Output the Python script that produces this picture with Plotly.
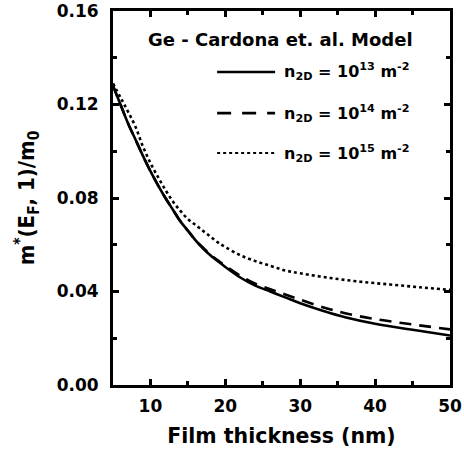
import plotly.graph_objects as go

# Film thickness (nm)
x_solid = [5, 6, 7, 8, 9, 10, 11, 12, 13, 14, 15, 16, 17, 18, 19, 20, 22, 24, 26, 28, 30, 33, 36, 40, 45, 50]
y_solid = [0.128, 0.120, 0.112, 0.105, 0.098, 0.0915, 0.0855, 0.080, 0.075, 0.070, 0.066, 0.062, 0.0585, 0.0555, 0.053, 0.0505,
           0.046, 0.0425, 0.040, 0.0375, 0.035, 0.0318, 0.029, 0.0262, 0.0236, 0.0212]

x_dash = [5, 6, 7, 8, 9, 10, 11, 12, 13, 14, 15, 16, 17, 18, 19, 20, 22, 24, 26, 28, 30, 33, 36, 40, 45, 50]
y_dash = [0.128, 0.120, 0.112, 0.105, 0.098, 0.0915, 0.0855, 0.080, 0.075, 0.070, 0.066, 0.062, 0.0588, 0.0558, 0.0533, 0.051,
          0.0467, 0.0433, 0.041, 0.0387, 0.0365, 0.0333, 0.0307, 0.0282, 0.0259, 0.0238]

x_dot = [5, 6, 7, 8, 9, 10, 11, 12, 13, 14, 15, 16, 17, 18, 19, 20, 22, 24, 26, 28, 30, 34, 38, 42, 46, 50]
y_dot = [0.129, 0.123, 0.117, 0.1105, 0.102, 0.095, 0.089, 0.0835, 0.0785, 0.0745, 0.071, 0.0685, 0.066, 0.0635, 0.061, 0.059,
         0.0555, 0.053, 0.051, 0.049, 0.0478, 0.0458, 0.0442, 0.043, 0.0418, 0.0407]

legend_labels = ["n<sub>2D</sub> = 10<sup>13</sup> m<sup>-2</sup>",
                 "n<sub>2D</sub> = 10<sup>14</sup> m<sup>-2</sup>",
                 "n<sub>2D</sub> = 10<sup>15</sup> m<sup>-2</sup>"]
legend_title = "Ge - Cardona et. al. Model"

x_ticks = [10, 20, 30, 40, 50]
y_ticks = [0.00, 0.04, 0.08, 0.12, 0.16]

FONT = "DejaVu Sans, Liberation Sans, sans-serif"
FONT_NARROW = "Liberation Sans Narrow, DejaVu Sans Condensed, Liberation Sans, sans-serif"
dashes = ["solid", "12px,8px", "dot"]

fig = go.Figure()
for xs, ys, d in [(x_solid, y_solid, dashes[0]), (x_dash, y_dash, dashes[1]), (x_dot, y_dot, dashes[2])]:
    fig.add_trace(go.Scatter(x=xs, y=ys, mode="lines", line=dict(color="black", width=2.6, dash=d, shape="spline"),
                             showlegend=False))

# legend (drawn manually)
rows_y = [0.837, 0.727, 0.620]
x0, x1, xt = 0.309, 0.481, 0.500
fig.add_shape(type="line", xref="paper", yref="paper", x0=x0, x1=x1, y0=rows_y[0], y1=rows_y[0],
              line=dict(color="black", width=2.6))
fig.add_shape(type="line", xref="paper", yref="paper", x0=x0, x1=x1, y0=rows_y[1], y1=rows_y[1],
              line=dict(color="black", width=2.6, dash="14px,11px"))
fig.add_shape(type="line", xref="paper", yref="paper", x0=x0, x1=x1, y0=rows_y[2], y1=rows_y[2],
              line=dict(color="black", width=2.0, dash="dot"))
for lab, yy in zip(legend_labels, rows_y):
    fig.add_annotation(xref="paper", yref="paper", x=xt, y=yy, text=lab, showarrow=False, xanchor="left",
                       yanchor="middle", font=dict(family=FONT, size=16, color="black", weight="bold"))
fig.add_annotation(xref="paper", yref="paper", x=0.497, y=0.925, text=legend_title, showarrow=False,
                   xanchor="center", yanchor="middle", font=dict(family=FONT, size=18, color="black", weight="bold"))

axis_common = dict(showline=True, linewidth=3, linecolor="black", mirror="allticks", ticks="inside",
                   ticklen=6, tickwidth=3, tickcolor="black", showgrid=False, zeroline=False, automargin=False,
                   tickfont=dict(family=FONT, size=17, color="black", weight="bold"))

fig.update_xaxes(range=[5, 50], tickvals=x_ticks,
                 minor=dict(dtick=5, tick0=0, ticks="inside", ticklen=4, tickwidth=2.5, tickcolor="black"),
                 title=dict(text="Film thickness (nm)", font=dict(family=FONT, size=20.5, color="black", weight="bold"),
                            standoff=14),
                 ticklabelstandoff=4,
                 **axis_common)
fig.update_yaxes(range=[0, 0.16], tickvals=y_ticks, tickformat=".2f",
                 minor=dict(dtick=0.02, tick0=0, ticks="inside", ticklen=4, tickwidth=2.5, tickcolor="black"),
                 title=dict(text="m<sup>*</sup>(E<sub>F</sub>, 1)/m<sub>0</sub>",
                            font=dict(family=FONT_NARROW, size=22, color="black", weight="bold"), standoff=16),
                 ticklabelstandoff=8,
                 **axis_common)

fig.update_layout(width=464, height=452, margin=dict(l=113, r=14, t=11, b=67),
                  plot_bgcolor="white", paper_bgcolor="white")

fig.write_html("out.html")
